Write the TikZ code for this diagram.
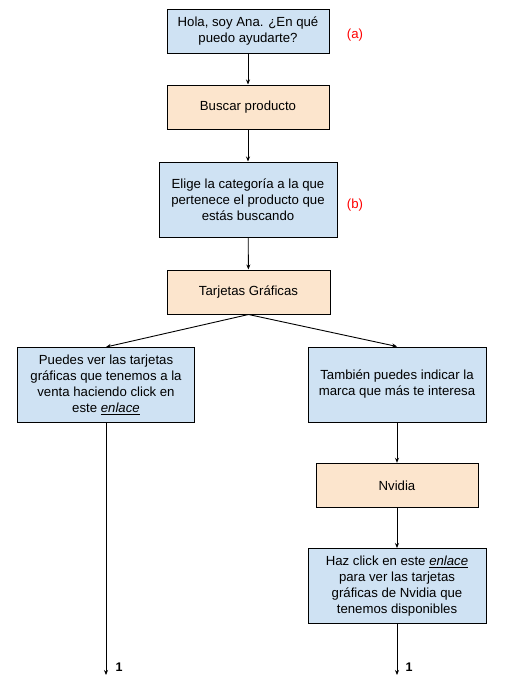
\documentclass[tikz,border=0pt]{standalone}
\usepackage{fontspec}
\setmainfont{Liberation Sans}
\usetikzlibrary{arrows.meta}
\definecolor{azulCaja}{HTML}{CFE2F3}
\definecolor{naranjaCaja}{HTML}{FCE5CD}
\begin{document}
\begin{tikzpicture}[x=1pt,y=-1pt,
    texto/.style={font=\fontsize{13.2}{16}\selectfont, align=center, inner sep=0pt},
    pregunta/.style={texto, draw, line width=1pt, fill=azulCaja, minimum width=178pt, minimum height=75pt},
    opcion/.style={texto, draw, line width=1pt, fill=naranjaCaja, minimum width=162pt, minimum height=44pt},
    flecha/.style={-{Stealth[length=5pt,width=4pt]}, line width=0.9pt},
    marca/.style={font=\fontsize{13.2}{16}\selectfont, text=red, inner sep=0pt}]
    \useasboundingbox (0,0) rectangle (528,691);

    % Columna central
    \node[pregunta, minimum width=162pt, minimum height=44pt] (saludo) at (248,31) {Hola, soy Ana. ¿En qué\\puedo ayudarte?};
    \node[marca] (marcaA) at (355,35.5) {(a)};

    \node[opcion] (buscar) at (248,107) {Buscar producto};

    \node[pregunta] (categoria) at (248,199.5) {Elige la categoría a la que\\pertenece el producto que\\estás buscando};
    \node[marca] (marcaB) at (355,205) {(b)};

    \node[opcion, minimum width=163pt] (tarjetas) at (248.5,292) {Tarjetas Gráficas};

    % Rama izquierda
    \node[pregunta, minimum width=177pt] (verTarjetas) at (106,385) {Puedes ver las tarjetas\\gráficas que tenemos a la\\venta haciendo click en\\este \underline{\textit{enlace}}};

    % Rama derecha
    \node[pregunta] (marcaPref) at (397,384.5) {También puedes indicar la\\marca que más te interesa};
    \node[opcion] (nvidia) at (397,485.3) {Nvidia};
    \node[pregunta] (enlaceNvidia) at (397,586) {Haz click en este \underline{\textit{enlace}}\\para ver las tarjetas\\gráficas de Nvidia que\\tenemos disponibles};

    % Salidas
    \coordinate (finIzq) at (106,675);
    \coordinate (finDer) at (397,675);
    \node[texto, font=\fontsize{12.5}{15}\selectfont\bfseries] (unoIzq) at (119.2,667.5) {1};
    \node[texto, font=\fontsize{12.5}{15}\selectfont\bfseries] (unoDer) at (409.2,667.5) {1};

    % Flechas
    \draw[flecha] (saludo) -- (buscar);
    \draw[flecha] (buscar) -- (categoria);
    \draw[flecha] (categoria) -- (tarjetas);
    \draw[flecha] (tarjetas.south) -- (verTarjetas.north);
    \draw[flecha] (tarjetas.south) -- (marcaPref.north);
    \draw[flecha] (verTarjetas.south) -- (finIzq);
    \draw[flecha] (marcaPref) -- (nvidia);
    \draw[flecha] (nvidia) -- (enlaceNvidia);
    \draw[flecha] (enlaceNvidia.south) -- (finDer);
\end{tikzpicture}
\end{document}
